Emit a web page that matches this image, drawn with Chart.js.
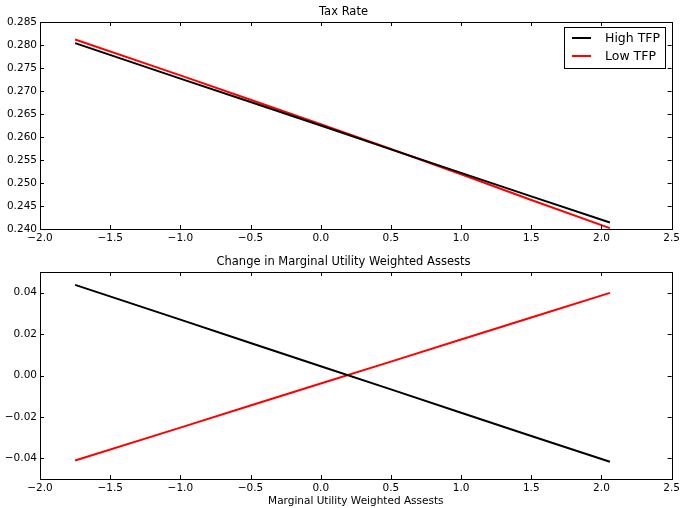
<!DOCTYPE html>
<html>
<head>
<meta charset="utf-8">
<script src="https://cdn.jsdelivr.net/npm/chart.js@4.4.1/dist/chart.umd.min.js"></script>
<style>
  html, body { margin: 0; padding: 0; background: #fff; }
  #wrap { position: relative; width: 683px; height: 508px; }
  canvas { position: absolute; left: 0; }
  #taxChart { top: 0; }
  #muChart { top: 250px; }
</style>
</head>
<body>
<div id="wrap">
  <canvas id="taxChart" width="683" height="250"></canvas>
  <canvas id="muChart" width="683" height="258"></canvas>
</div>
<script>
// grid of marginal-utility-weighted assets
const assets = [-1.75, -1.0, -0.5, 0.0, 0.5, 1.0, 1.5, 2.06];

// tax rate by state
const taxHigh = [0.2804, 0.2727, 0.2676, 0.2625, 0.2573, 0.2522, 0.2471, 0.2414];
const taxLow  = [0.2812, 0.2734, 0.2681, 0.2628, 0.2574, 0.2519, 0.2463, 0.2402];

// change in marginal utility weighted assets by state
const muHigh = [0.0438, 0.0270, 0.0157, 0.0045, -0.0067, -0.0180, -0.0292, -0.0417];
const muLow  = [-0.0411, -0.0252, -0.0145, -0.0039, 0.0067, 0.0174, 0.0280, 0.0399];

const xTicks = [-2.0, -1.5, -1.0, -0.5, 0.0, 0.5, 1.0, 1.5, 2.0, 2.5];
const taxTicks = [0.240, 0.245, 0.250, 0.255, 0.260, 0.265, 0.270, 0.275, 0.280, 0.285];
const muTicks = [-0.04, -0.02, 0.00, 0.02, 0.04];

const seriesNames = ['High TFP', 'Low TFP'];
const seriesColors = ['#000000', '#ff0000'];

const FONT = 'DejaVu Sans';
const minus = s => s.replace('-', '\u2212');

function points(ys) {
  return assets.map((x, i) => ({ x: x, y: ys[i] }));
}

// frame around the plot area with matplotlib-style inward ticks,
// plus the panel title at the top
const framePlugin = {
  id: 'frame',
  afterDraw(chart, args, opts) {
    const { ctx, chartArea: a, scales } = chart;
    ctx.save();
    ctx.strokeStyle = '#000';
    ctx.lineWidth = 1;
    ctx.strokeRect(Math.round(a.left) + 0.5, Math.round(a.top) + 0.5,
                   Math.round(a.right - a.left), Math.round(a.bottom - a.top));
    const len = 4;
    ctx.beginPath();
    scales.x.ticks.forEach(t => {
      const px = Math.round(scales.x.getPixelForValue(t.value)) + 0.5;
      ctx.moveTo(px, a.bottom); ctx.lineTo(px, a.bottom - len);
      ctx.moveTo(px, a.top); ctx.lineTo(px, a.top + len);
    });
    scales.y.ticks.forEach(t => {
      const py = Math.round(scales.y.getPixelForValue(t.value)) + 0.5;
      ctx.moveTo(a.left, py); ctx.lineTo(a.left + len, py);
      ctx.moveTo(a.right, py); ctx.lineTo(a.right - len, py);
    });
    ctx.stroke();

    ctx.fillStyle = '#000';
    ctx.font = '11.5px "' + FONT + '"';
    ctx.textAlign = 'center';
    ctx.textBaseline = 'middle';
    ctx.fillText(opts.title, chart.width / 2 + 2, a.top - 10);
    ctx.restore();
  }
};

// boxed legend in the upper right corner
const legendPlugin = {
  id: 'boxLegend',
  afterDraw(chart, args, opts) {
    if (!opts.show) return;
    const { ctx, chartArea: a } = chart;
    const w = 101, h = 41;
    const x0 = Math.round(a.right) - 7 - w, y0 = Math.round(a.top) + 5;
    ctx.save();
    ctx.fillStyle = '#fff';
    ctx.fillRect(x0, y0, w, h);
    ctx.strokeStyle = '#000';
    ctx.lineWidth = 1;
    ctx.strokeRect(x0 + 0.5, y0 + 0.5, w, h);
    ctx.font = '12.5px "' + FONT + '"';
    ctx.textBaseline = 'middle';
    chart.data.datasets.forEach((ds, i) => {
      const y = y0 + 11 + i * 18;
      ctx.strokeStyle = ds.borderColor;
      ctx.lineWidth = 2;
      ctx.beginPath();
      ctx.moveTo(x0 + 8, y); ctx.lineTo(x0 + 27, y);
      ctx.stroke();
      ctx.fillStyle = '#000';
      ctx.fillText(ds.label, x0 + 41, y + 1);
    });
    ctx.restore();
  }
};

function makeChart(id, high, low, yMin, yMax, yTicks, digits, title, xTitle, legend, xHeight) {
  return new Chart(document.getElementById(id), {
    type: 'line',
    data: {
      datasets: [
        { label: seriesNames[0], data: points(high), borderColor: seriesColors[0] },
        { label: seriesNames[1], data: points(low), borderColor: seriesColors[1] }
      ]
    },
    options: {
      responsive: false,
      animation: false,
      events: [],
      layout: { padding: { left: 0, right: 10, top: 22, bottom: 0 } },
      elements: {
        point: { radius: 0 },
        line: { borderWidth: 2, tension: 0 }
      },
      scales: {
        x: {
          type: 'linear',
          min: -2.0, max: 2.5,
          grid: { display: false, drawTicks: false },
          border: { display: false },
          afterBuildTicks: s => { s.ticks = xTicks.map(v => ({ value: v })); },
          afterFit: s => { s.height = xHeight; },
          ticks: {
            padding: 3,
            color: '#000',
            font: { family: FONT, size: 10.5 },
            maxRotation: 0,
            autoSkip: false,
            callback: v => minus(v.toFixed(1))
          },
          title: {
            display: !!xTitle,
            text: xTitle || '',
            color: '#000',
            font: { family: FONT, size: 10.5 },
            padding: { top: 1, bottom: 0 }
          }
        },
        y: {
          min: yMin, max: yMax,
          grid: { display: false, drawTicks: false },
          border: { display: false },
          afterBuildTicks: s => { s.ticks = yTicks.map(v => ({ value: v })); },
          afterFit: s => { s.width = 40; },
          ticks: {
            padding: 3,
            color: '#000',
            font: { family: FONT, size: 10.5 },
            autoSkip: false,
            callback: v => minus(v.toFixed(digits))
          }
        }
      },
      plugins: {
        legend: { display: false },
        tooltip: { enabled: false },
        title: { display: false },
        frame: { title: title },
        boxLegend: { show: legend }
      }
    },
    plugins: [framePlugin, legendPlugin]
  });
}

makeChart('taxChart', taxHigh, taxLow, 0.240, 0.285, taxTicks, 3,
          'Tax Rate', null, true, 21);
makeChart('muChart', muHigh, muLow, -0.05, 0.05, muTicks, 2,
          'Change in Marginal Utility Weighted Assests',
          'Marginal Utility Weighted Assests', false, 29);
</script>
</body>
</html>
